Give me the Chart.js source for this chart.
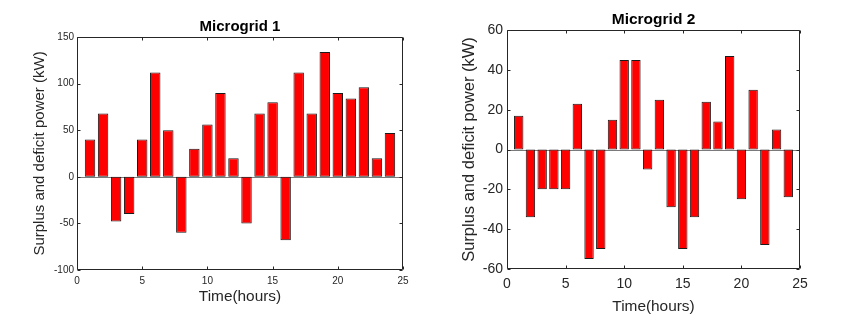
<!DOCTYPE html>
<html><head><meta charset="utf-8">
<script src="https://cdn.jsdelivr.net/npm/chart.js@4/dist/chart.umd.min.js"></script>
<style>
html,body{margin:0;padding:0;background:#fff;width:841px;height:325px;overflow:hidden}
.c{position:absolute;top:0}
canvas{display:block}
</style></head><body>
<div class="c" style="left:0;width:420px;height:325px"><canvas id="c1" width="420" height="325"></canvas></div>
<div class="c" style="left:420px;width:421px;height:325px"><canvas id="c2" width="421" height="325"></canvas></div>
<script>
const hours = [1,2,3,4,5,6,7,8,9,10,11,12,13,14,15,16,17,18,19,20,21,22,23,24];
const microgrid1 = [40,68,-48,-40,40,112,50,-60,30,56,90,20,-50,68,80,-68,112,68,134,90,84,96,20,47];
const microgrid2 = [17,-34,-20,-20,-20,23,-55,-50,15,45,45,-10,25,-29,-50,-34,24,14,47,-25,30,-48,10,-24];
const xTicks = [0,5,10,15,20,25];
const yTicks1 = [-100,-50,0,50,100,150];
const yTicks2 = [-60,-40,-20,0,20,40,60];
const titles = ['Microgrid 1','Microgrid 2'];
const xLabel = 'Time(hours)';
const yLabel = 'Surplus and deficit power (kW)';

const AX = '#262626';
const FONT = '"Liberation Sans", Arial, Helvetica, sans-serif';

const boxPlugin = {
  id: 'matlabBox',
  beforeDatasetsDraw(chart) {
    const {ctx, chartArea: a, scales: {y}} = chart;
    const y0 = Math.round(y.getPixelForValue(0)) + 0.5;
    ctx.save();
    ctx.strokeStyle = '#7a7a7a'; ctx.lineWidth = 1;
    ctx.beginPath(); ctx.moveTo(a.left, y0); ctx.lineTo(a.right, y0); ctx.stroke();
    ctx.restore();
  },
  afterDatasetsDraw(chart, args, opts) {
    const {ctx, chartArea: a, scales: {x, y}} = chart;
    const L = Math.round(a.left) + 0.5, R = Math.round(a.right) - 0.5;
    const T = Math.round(a.top) + 0.5, B = Math.round(a.bottom) - 0.5;
    const tl = opts.tickLen || 3;
    ctx.save();
    ctx.strokeStyle = AX; ctx.lineWidth = 1;
    ctx.beginPath();
    ctx.rect(L, T, R - L, B - T);
    x.ticks.forEach(t => {
      const p = Math.round(x.getPixelForValue(t.value)) + 0.5;
      ctx.moveTo(p, B); ctx.lineTo(p, B - tl);
      ctx.moveTo(p, T); ctx.lineTo(p, T + tl);
    });
    y.ticks.forEach(t => {
      const p = Math.round(y.getPixelForValue(t.value)) + 0.5;
      ctx.moveTo(L, p); ctx.lineTo(L + tl, p);
      ctx.moveTo(R, p); ctx.lineTo(R - tl, p);
    });
    ctx.stroke();
    ctx.restore();
  }
};

function makeChart(id, cfg) {
  return new Chart(document.getElementById(id), {
    type: 'bar',
    data: {
      datasets: [{
        data: hours.map((h, i) => ({x: h, y: cfg.values[i]})),
        backgroundColor: '#ff0000',
        borderColor: '#1a1a1a',
        borderWidth: 1,
        borderSkipped: false,
        barPercentage: 0.8,
        categoryPercentage: 1.0
      }]
    },
    options: {
      responsive: false,
      animation: false,
      layout: {padding: {left: 0, right: cfg.padRight, top: 0, bottom: 0}},
      plugins: {
        legend: {display: false},
        tooltip: {enabled: false},
        title: {
          display: true, text: cfg.title, fullSize: false,
          color: '#000',
          font: {family: FONT, size: cfg.titleSize, weight: 'bold', lineHeight: 1.2},
          padding: {top: cfg.titlePadTop, bottom: cfg.titlePadBottom}
        },
        matlabBox: {tickLen: cfg.tickLen}
      },
      scales: {
        x: {
          type: 'linear', min: 0, max: 25, offset: false,
          grid: {display: false, drawTicks: false, offset: false},
          border: {display: false},
          afterBuildTicks: s => { s.ticks = xTicks.map(v => ({value: v})); },
          afterFit: s => { s.height = cfg.xHeight; },
          ticks: {color: AX, padding: cfg.xTickPad, maxRotation: 0, autoSkip: false,
                  font: {family: FONT, size: cfg.tickSize}},
          title: {display: true, text: xLabel, color: AX,
                  font: {family: FONT, size: cfg.xTitleSize, lineHeight: 1.2},
                  padding: {top: 0, bottom: cfg.xTitlePadBottom}}
        },
        y: {
          type: 'linear', min: cfg.yMin, max: cfg.yMax,
          grid: {display: false, drawTicks: false},
          border: {display: false},
          afterBuildTicks: s => { s.ticks = cfg.yTicks.map(v => ({value: v})); },
          afterFit: s => { s.width = cfg.yWidth; },
          ticks: {color: AX, padding: cfg.yTickPad, autoSkip: false,
                  font: {family: FONT, size: cfg.tickSize}},
          title: {display: true, text: yLabel, color: AX,
                  font: {family: FONT, size: cfg.yTitleSize, lineHeight: 1.2},
                  padding: {top: cfg.yTitlePadTop, bottom: 0}}
        }
      }
    },
    plugins: [boxPlugin]
  });
}

makeChart('c1', {
  values: microgrid1, title: titles[0], yTicks: yTicks1, yMin: -100, yMax: 150,
  padRight: 17, yWidth: 77, xHeight: 55,
  titleSize: 15, titlePadTop: 18, titlePadBottom: 1,
  tickSize: 10, xTickPad: 5, yTickPad: 3,
  xTitleSize: 15.4, xTitlePadBottom: 19,
  yTitleSize: 15, yTitlePadTop: 31, tickLen: 3
});
makeChart('c2', {
  values: microgrid2, title: titles[1], yTicks: yTicks2, yMin: -60, yMax: 60,
  padRight: 41, yWidth: 87, xHeight: 56,
  titleSize: 15.5, titlePadTop: 10, titlePadBottom: 1.4,
  tickSize: 14, xTickPad: 6.5, yTickPad: 4,
  xTitleSize: 15.4, xTitlePadBottom: 9,
  yTitleSize: 16.5, yTitlePadTop: 40, tickLen: 3
});
</script>
</body></html>
